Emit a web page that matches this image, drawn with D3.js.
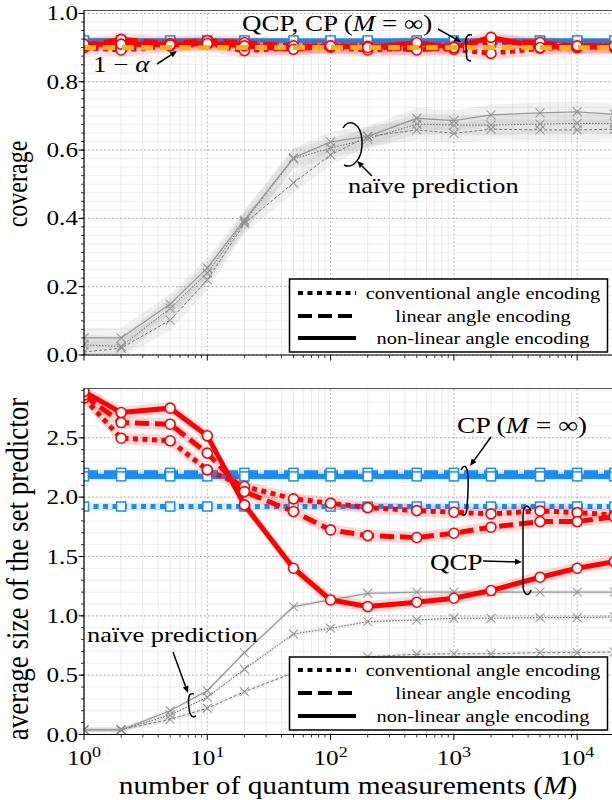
<!DOCTYPE html>
<html><head><meta charset="utf-8">
<script src="https://cdn.jsdelivr.net/npm/d3@7"></script>
<style>body{margin:0;background:#fff}svg{display:block}</style>
</head><body>
<script>
// Number of quantum measurements M
const M = [1, 2, 5, 10, 20, 50, 100, 200, 500, 1000, 2000, 5000, 10000, 20000];

// Coverage of QCP (conventional / linear / non-linear angle encoding)
const covQcpConv   = [0.900, 0.893, 0.905, 0.910, 0.891, 0.900, 0.902, 0.893, 0.900, 0.895, 0.883, 0.898, 0.900, 0.900];
const covQcpLin    = [0.905, 0.924, 0.912, 0.920, 0.914, 0.905, 0.902, 0.904, 0.893, 0.902, 0.917, 0.915, 0.902, 0.902];
const covQcpNonlin = [0.910, 0.910, 0.908, 0.912, 0.905, 0.895, 0.905, 0.900, 0.914, 0.900, 0.930, 0.900, 0.905, 0.905];
// Coverage of CP with M = infinity (conventional, linear, non-linear)
const covCp = [0.915, 0.918, 0.921];
// Coverage of naive prediction
const covNaiveConv   = [0.030, 0.025, 0.137, 0.240, 0.390, 0.574, 0.606, 0.632, 0.676, 0.673, 0.673, 0.676, 0.678, 0.678];
const covNaiveLin    = [0.009, 0.020, 0.102, 0.220, 0.385, 0.504, 0.586, 0.640, 0.659, 0.649, 0.661, 0.659, 0.659, 0.661];
const covNaiveNonlin = [0.050, 0.050, 0.149, 0.255, 0.395, 0.577, 0.624, 0.640, 0.693, 0.686, 0.703, 0.709, 0.712, 0.705];
const targetCoverage = 0.9;

// Average set size
const sizeQcpConv   = [2.835, 2.497, 2.475, 2.230, 2.090, 1.986, 1.949, 1.912, 1.887, 1.873, 1.859, 1.884, 1.870, 1.850];
const sizeQcpLin    = [2.860, 2.629, 2.615, 2.371, 2.047, 1.879, 1.724, 1.676, 1.660, 1.696, 1.747, 1.794, 1.794, 1.836];
const sizeQcpNonlin = [2.890, 2.713, 2.750, 2.517, 1.935, 1.401, 1.134, 1.078, 1.115, 1.148, 1.213, 1.325, 1.401, 1.457];
const sizeCp = [1.921, 2.205, 2.175];
const sizeNaiveConv   = [0.040, 0.040, 0.164, 0.314, 0.550, 0.847, 0.895, 0.951, 0.965, 0.980, 0.980, 0.985, 0.985, 0.990];
const sizeNaiveLin    = [0.040, 0.040, 0.128, 0.221, 0.361, 0.520, 0.600, 0.656, 0.676, 0.680, 0.680, 0.690, 0.690, 0.695];
const sizeNaiveNonlin = [0.040, 0.040, 0.200, 0.369, 0.690, 1.078, 1.134, 1.190, 1.200, 1.200, 1.200, 1.200, 1.200, 1.200];

// Confidence band half-widths
const bandCovQcp = 0.02, bandCovCp = 0.008, bandCovNaive = 0.03;
const bandSizeQcp = 0.05, bandSizeCp = 0.035, bandSizeNaive = 0.02;

const xTickExps = [0, 1, 2, 3, 4];
const yTicksTop = [0, 0.2, 0.4, 0.6, 0.8, 1.0];
const yTicksBot = [0, 0.5, 1.0, 1.5, 2.0, 2.5];
const legendLabels = ["conventional angle encoding", "linear angle encoding", "non-linear angle encoding"];

const W = 612, H = 800, SX = 1.2;
const RED = "#ff0000", BLUE = "#1e8cf0", ORANGE = "#f5b40a";
const styles = [
  { dash: "5,4.5", naiveDash: "1.5,1.5", naiveColor: "#666", naiveW: 1 },
  { dash: "14,6", naiveDash: "3,2", naiveColor: "#777", naiveW: 1 },
  { dash: null, naiveDash: null, naiveColor: "#9a9a9a", naiveW: 1.3 }
];

const svg = d3.select("body").append("svg").attr("width", W).attr("height", H)
  .style("font-family", "'Liberation Serif','Times New Roman',serif");

const x = d3.scaleLog().domain([1, 20000]).range([84, 614.3]);
const yTop = d3.scaleLinear().domain([0, 1.01]).range([355, 10]);
const yBot = d3.scaleLinear().domain([0, 2.92]).range([734.5, 388]);

function label(g, px, py, parts, size, anchor, rot) {
  const t = g.append("text")
    .attr("transform", `translate(${px},${py}) scale(${SX},1)` + (rot ? " rotate(-90)" : ""))
    .attr("font-size", size).attr("text-anchor", anchor || "start").attr("fill", "#000");
  parts.forEach(p => {
    const s = t.append("tspan").text(p[0]);
    if (p[1]) s.attr("font-style", "italic");
  });
  return t;
}

function minorX() {
  const out = [];
  for (let k = 0; k <= 4; k++) for (let m = 2; m <= 9; m++) { const v = m * Math.pow(10, k); if (v <= 20000) out.push(v); }
  return out;
}

function panel(y, id, majors, minorStep, yMax) {
  const [y0, y1] = y.range();
  const x0 = x.range()[0], x1 = W;
  const g = svg.append("g");
  svg.append("clipPath").attr("id", id).append("rect").attr("x", x0).attr("y", y1).attr("width", x1 - x0).attr("height", y0 - y1);
  const minorsY = d3.range(0, yMax + 1e-9, minorStep).map(v => +v.toFixed(4));
  g.selectAll(null).data(minorX()).join("line").attr("x1", d => x(d)).attr("x2", d => x(d)).attr("y1", y0).attr("y2", y1)
    .attr("stroke", "#e6e6e6").attr("stroke-width", 0.8);
  g.selectAll(null).data(minorsY).join("line").attr("x1", x0).attr("x2", x1).attr("y1", d => y(d)).attr("y2", d => y(d))
    .attr("stroke", "#ececec").attr("stroke-width", 0.8);
  g.selectAll(null).data(xTickExps.map(e => Math.pow(10, e))).join("line").attr("x1", d => x(d)).attr("x2", d => x(d)).attr("y1", y0).attr("y2", y1)
    .attr("stroke", "#a8a8a8").attr("stroke-width", 1).attr("stroke-dasharray", "1.5,2.5");
  g.selectAll(null).data(majors).join("line").attr("x1", x0).attr("x2", x1).attr("y1", d => y(d)).attr("y2", d => y(d))
    .attr("stroke", "#a8a8a8").attr("stroke-width", 1).attr("stroke-dasharray", "1.5,2.5");
  const data = svg.append("g").attr("clip-path", `url(#${id})`);
  return { g, data, y, y0, y1, x0, x1, majors, minorsY };
}

function axes(p, withLabels, fmt) {
  const a = svg.append("g");
  a.append("line").attr("x1", p.x0).attr("x2", p.x1).attr("y1", p.y1 + 0.5).attr("y2", p.y1 + 0.5).attr("stroke", "#555").attr("stroke-width", 1.2);
  a.append("line").attr("x1", p.x0).attr("x2", p.x0).attr("y1", p.y0).attr("y2", p.y1).attr("stroke", "#000").attr("stroke-width", 1.2);
  a.append("line").attr("x1", p.x0).attr("x2", p.x1).attr("y1", p.y0).attr("y2", p.y0).attr("stroke", "#000").attr("stroke-width", 1.2);
  a.selectAll(null).data(p.minorsY).join("line").attr("x1", p.x0 - 3).attr("x2", p.x0).attr("y1", d => p.y(d)).attr("y2", d => p.y(d)).attr("stroke", "#000").attr("stroke-width", 0.8);
  a.selectAll(null).data(p.majors).join("line").attr("x1", p.x0 - 5.5).attr("x2", p.x0).attr("y1", d => p.y(d)).attr("y2", d => p.y(d)).attr("stroke", "#000").attr("stroke-width", 1);
  a.selectAll(null).data(minorX()).join("line").attr("x1", d => x(d)).attr("x2", d => x(d)).attr("y1", p.y0).attr("y2", p.y0 + 3).attr("stroke", "#000").attr("stroke-width", 0.8);
  a.selectAll(null).data(xTickExps).join("line").attr("x1", d => x(Math.pow(10, d))).attr("x2", d => x(Math.pow(10, d))).attr("y1", p.y0).attr("y2", p.y0 + 5.5).attr("stroke", "#000").attr("stroke-width", 1);
  p.majors.forEach(v => label(a, 78, p.y(v) + 7, [[fmt(v)]], 21, "end"));
  if (withLabels) {
    xTickExps.forEach(e => {
      const t = label(a, x(Math.pow(10, e)), 765, [["10"]], 21, "middle");
      t.append("tspan").attr("dy", -8).attr("font-size", 15).text(e);
    });
  }
}

function series(p, vals, opt) {
  const pts = M.map((m, i) => [m, vals[i]]);
  if (opt.band) {
    p.data.append("path").datum(pts)
      .attr("d", d3.area().x(d => x(d[0])).y0(d => p.y(d[1] - opt.band)).y1(d => p.y(d[1] + opt.band)))
      .attr("fill", opt.bandColor);
  }
  const path = p.data.append("path").datum(pts)
    .attr("d", d3.line().x(d => x(d[0])).y(d => p.y(d[1])))
    .attr("fill", "none").attr("stroke", opt.color).attr("stroke-width", opt.width);
  if (opt.dash) path.attr("stroke-dasharray", opt.dash);
  return pts;
}

function markers(p, pts, kind, color) {
  const g = p.data.append("g");
  pts.forEach(([m, v]) => {
    const cx = x(m), cy = p.y(v);
    if (kind === "circle") g.append("circle").attr("cx", cx).attr("cy", cy).attr("r", 5).attr("fill", "#fff").attr("stroke", color).attr("stroke-width", 1.6);
    else if (kind === "square") g.append("rect").attr("x", cx - 4.5).attr("y", cy - 4.5).attr("width", 9).attr("height", 9).attr("fill", "#fff").attr("stroke", color).attr("stroke-width", 1.5);
    else {
      const s = 4.5;
      g.append("path").attr("d", `M${cx - s},${cy - s}L${cx + s},${cy + s}M${cx - s},${cy + s}L${cx + s},${cy - s}`)
        .attr("stroke", color).attr("stroke-width", 1.2).attr("opacity", 0.75);
    }
  });
}

function arrow(g, xa, ya, xb, yb) {
  const ang = Math.atan2(yb - ya, xb - xa), L = 7, w = 3;
  const bx = xb - L * Math.cos(ang), by = yb - L * Math.sin(ang);
  g.append("line").attr("x1", xa).attr("y1", ya).attr("x2", bx).attr("y2", by).attr("stroke", "#000").attr("stroke-width", 1.5);
  g.append("path").attr("d", `M${xb},${yb}L${bx + w * Math.sin(ang)},${by - w * Math.cos(ang)}L${bx - w * Math.sin(ang)},${by + w * Math.cos(ang)}Z`).attr("fill", "#000");
}
function bracket(g, d) {
  g.append("path").attr("d", d).attr("fill", "none").attr("stroke", "#000").attr("stroke-width", 1.5);
}

function legend(g, y0, rowYs) {
  g.append("rect").attr("x", 289.5).attr("y", y0).attr("width", 318).attr("height", rowYs[2] - y0 + 14)
    .attr("fill", "#fff").attr("stroke", "#000").attr("stroke-width", 1.5);
  legendLabels.forEach((t, i) => {
    const l = g.append("line").attr("x1", 298).attr("x2", 356).attr("y1", rowYs[i]).attr("y2", rowYs[i]).attr("stroke", "#000").attr("stroke-width", 4);
    if (styles[i].dash) l.attr("stroke-dasharray", styles[i].dash);
    label(g, 483, rowYs[i] + 6, [[t]], 17, "middle");
  });
}

// ---------- coverage panel ----------
const pTop = panel(yTop, "clipTop", yTicksTop, 0.025, 1.01);
[covNaiveConv, covNaiveLin, covNaiveNonlin].forEach((v, i) => {
  const pts = series(pTop, v, { color: styles[i].naiveColor, width: styles[i].naiveW, dash: styles[i].naiveDash, band: bandCovNaive, bandColor: "rgba(150,150,150,0.13)" });
  markers(pTop, pts, "x", "#888");
});
covCp.forEach((c, i) => {
  const pts = series(pTop, M.map(() => c), { color: BLUE, width: 4.5, dash: styles[i].dash, band: bandCovCp, bandColor: "rgba(30,140,240,0.15)" });
  markers(pTop, pts, "square", BLUE);
});
[covQcpConv, covQcpLin, covQcpNonlin].forEach((v, i) => {
  series(pTop, v, { color: RED, width: 5, dash: styles[i].dash, band: bandCovQcp, bandColor: "rgba(255,0,0,0.12)" });
});
[covQcpConv, covQcpLin, covQcpNonlin].forEach(v => markers(pTop, M.map((m, i) => [m, v[i]]), "circle", RED));
pTop.data.append("line").attr("x1", pTop.x0).attr("x2", pTop.x1).attr("y1", yTop(targetCoverage)).attr("y2", yTop(targetCoverage))
  .attr("stroke", ORANGE).attr("stroke-width", 5).attr("stroke-dasharray", "12,7");
axes(pTop, false, d => d.toFixed(1));

const annTop = svg.append("g");
label(annTop, 242, 31, [["QCP, CP ("], ["M", true], [" = ∞)"]], 22.5);
arrow(annTop, 438, 29, 461, 42);
bracket(annTop, "M472,35 C466,33 465,40 466,47 C467,55 465,61 471,61");
label(annTop, 93, 72, [["1 − "], ["α", true]], 22.5);
arrow(annTop, 157, 64, 177, 51);
label(annTop, 348, 193, [["naïve prediction"]], 22);
arrow(annTop, 372, 176, 357, 161);
bracket(annTop, "M343,128 C348,118 361,122 362,141 C363,160 352,169 344,165");
legend(annTop, 279, [293, 316, 338]);

// ---------- set-size panel ----------
const pBot = panel(yBot, "clipBot", yTicksBot, 0.1, 2.92);
[sizeNaiveConv, sizeNaiveLin, sizeNaiveNonlin].forEach((v, i) => {
  const pts = series(pBot, v, { color: styles[i].naiveColor, width: styles[i].naiveW, dash: styles[i].naiveDash, band: bandSizeNaive, bandColor: "rgba(150,150,150,0.13)" });
  markers(pBot, pts, "x", "#888");
});
sizeCp.forEach((c, i) => {
  const pts = series(pBot, M.map(() => c), { color: BLUE, width: 5, dash: styles[i].dash, band: bandSizeCp, bandColor: "rgba(30,140,240,0.15)" });
  markers(pBot, pts, "square", BLUE);
});
[sizeQcpConv, sizeQcpLin, sizeQcpNonlin].forEach((v, i) => {
  series(pBot, v, { color: RED, width: 5, dash: styles[i].dash, band: bandSizeQcp, bandColor: "rgba(255,0,0,0.15)" });
});
[sizeQcpConv, sizeQcpLin, sizeQcpNonlin].forEach(v => markers(pBot, M.map((m, i) => [m, v[i]]), "circle", RED));
axes(pBot, true, d => d.toFixed(1));

const annBot = svg.append("g");
label(annBot, 457, 433, [["CP ("], ["M", true], [" = ∞)"]], 23);
arrow(annBot, 491, 437, 470, 466);
bracket(annBot, "M461,470 C465,462 469,466 468,490 C467,512 467,518 461,514");
label(annBot, 430, 570, [["QCP"]], 22.5);
arrow(annBot, 483, 561, 522, 562);
bracket(annBot, "M531,511 C528,503 523,505 523,516 L523,584 C523,596 529,597 531,590");
label(annBot, 87, 642, [["naïve prediction"]], 22);
arrow(annBot, 173, 652, 188, 693);
bracket(annBot, "M194,694 C188,692 188,700 189,708 C190,716 192,718 196,716");
legend(annBot, 657, [670, 693, 716]);

// axis titles
label(svg, 348, 794, [["number of quantum measurements ("], ["M", true], [")"]], 24.5, "middle");
label(svg, 27, 184, [["coverage"]], 24, "middle", true);
label(svg, 28, 569, [["average size of the set predictor"]], 27, "middle", true);
</script>
</body></html>
